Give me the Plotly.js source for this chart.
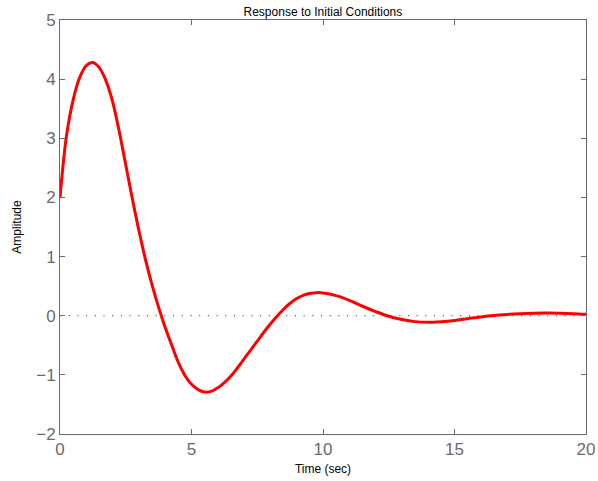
<!DOCTYPE html>
<html>
<head>
<meta charset="utf-8">
<script src="https://cdn.plot.ly/plotly-3.0.1.min.js"></script>
<style>
html,body{margin:0;padding:0;background:#fff;}
#chart{width:598px;height:481px;}
</style>
</head>
<body>
<div id="chart"></div>
<script>
// Time samples (sec)
var timeSec = [0, 0.25, 0.5, 0.75, 1.0, 1.25, 1.5, 1.75, 2.0, 2.25, 2.5, 2.75, 3.0, 3.25, 3.5, 3.75, 4.0, 4.25, 4.5, 4.75, 5.0, 5.25, 5.5, 5.75, 6.0, 6.25, 6.5, 6.75, 7.0, 7.25, 7.5, 7.75, 8.0, 8.25, 8.5, 8.75, 9.0, 9.25, 9.5, 9.75, 10.0, 10.5, 11.0, 11.5, 12.0, 12.5, 13.0, 13.5, 14.0, 14.5, 15.0, 15.5, 16.0, 16.5, 17.0, 17.5, 18.0, 18.5, 19.0, 19.5, 20.0];
// Amplitude
var amplitude = [2.0, 3.05, 3.65, 4.03, 4.23, 4.28, 4.19, 3.97, 3.62, 3.12, 2.55, 1.98, 1.44, 0.95, 0.52, 0.14, -0.2, -0.5, -0.79, -1.01, -1.16, -1.25, -1.29, -1.28, -1.22, -1.13, -1.02, -0.88, -0.73, -0.58, -0.43, -0.28, -0.14, -0.01, 0.11, 0.21, 0.29, 0.345, 0.375, 0.39, 0.385, 0.34, 0.26, 0.16, 0.07, -0.01, -0.065, -0.1, -0.11, -0.1, -0.08, -0.05, -0.02, 0.005, 0.022, 0.035, 0.042, 0.045, 0.042, 0.035, 0.025];
var xRange = [0, 20];
var yRange = [-2, 5];
var xTicks = [0, 5, 10, 15, 20];
var yTicks = [-2, -1, 0, 1, 2, 3, 4, 5];
var titleText = 'Response to Initial Conditions';
var xTitle = 'Time (sec)';
var yTitle = 'Amplitude';

var traces = [
  {
    x: xRange, y: [0, 0], mode: 'lines', hoverinfo: 'skip',
    line: {color: '#222', width: 1, dash: '1px,7.7px'}
  },
  {
    x: timeSec, y: amplitude, mode: 'lines',
    line: {color: '#ff0000', width: 3, shape: 'spline', smoothing: 1}
  }
];

var axisCommon = {
  showgrid: false, zeroline: false, showline: true, mirror: 'ticks',
  linecolor: '#6a6a6a', linewidth: 1, ticks: 'inside', ticklen: 5,
  tickcolor: '#6a6a6a', tickwidth: 1,
  tickfont: {family: 'Liberation Sans, Arial, sans-serif', size: 17, color: '#6a6a6a'}
};

var layout = {
  width: 598, height: 481,
  margin: {l: 60, r: 12, t: 20, b: 47},
  paper_bgcolor: '#ffffff', plot_bgcolor: '#ffffff',
  showlegend: false,
  title: {text: titleText, font: {family: 'Liberation Sans, Arial, sans-serif', size: 12, color: '#000'},
          x: 0.54, xanchor: 'center', y: 0.975, yanchor: 'middle'},
  xaxis: Object.assign({}, axisCommon, {
    range: xRange, tickvals: xTicks, ticktext: xTicks.map(String),
    title: {text: xTitle, standoff: 6, font: {family: 'Liberation Sans, Arial, sans-serif', size: 12, color: '#000'}}
  }),
  yaxis: Object.assign({}, axisCommon, {
    range: yRange, tickvals: yTicks,
    ticktext: yTicks.map(function(v){ return v < 0 ? '\u2212' + Math.abs(v) : String(v); }),
    title: {text: yTitle, standoff: 12, font: {family: 'Liberation Sans, Arial, sans-serif', size: 12, color: '#000'}}
  })
};

Plotly.newPlot('chart', traces, layout, {displayModeBar: false, staticPlot: true});
</script>
</body>
</html>
